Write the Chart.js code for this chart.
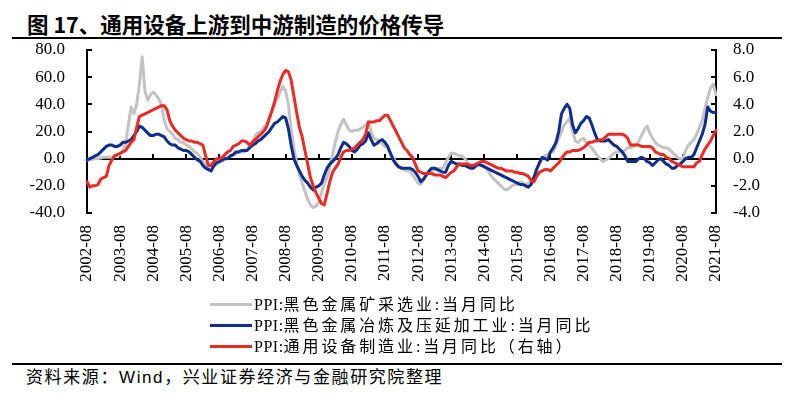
<!DOCTYPE html>
<html><head><meta charset="utf-8">
<script src="https://cdn.jsdelivr.net/npm/chart.js@4.4.1/dist/chart.umd.min.js"></script>
<style>
html,body{margin:0;padding:0;background:#fff;}
body{width:789px;height:399px;position:relative;overflow:hidden;}
#title{position:absolute;left:27px;top:10px;font-family:"Noto Sans CJK SC",sans-serif;font-weight:700;font-size:21.5px;line-height:27px;color:#000;white-space:nowrap;}
.rule{position:absolute;left:12px;width:770px;height:2px;background:#000;}
#cv{position:absolute;left:0;top:0;}
#legend{position:absolute;left:210px;top:294px;}
.item{height:21px;display:flex;align-items:center;white-space:nowrap;}
.swatch{width:42px;height:3px;margin-right:2px;}
.lt{font-family:"Liberation Serif","Noto Sans CJK SC",serif;font-size:16px;color:#000;line-height:21px;}
.lt .p{letter-spacing:0.5px;}
.lt .c{letter-spacing:2.9px;}
#source{position:absolute;left:26px;top:366px;font-family:"Liberation Sans","Noto Sans CJK SC",sans-serif;font-size:17px;letter-spacing:1.6px;line-height:24px;color:#000;white-space:nowrap;}
</style></head>
<body>
<div id="title">图 17、通用设备上游到中游制造的价格传导</div>
<div class="rule" style="top:37px"></div>
<canvas id="cv" width="789" height="300"></canvas>
<div id="legend"></div>
<div class="rule" style="top:363px"></div>
<div id="source">资料来源：Wind，兴业证券经济与金融研究院整理</div>
<script>
// ---- data ----
const startYear = 2002, startMonth = 8, endYear = 2021, endMonth = 8;
const seriesNames = ["PPI:黑色金属矿采选业:当月同比", "PPI:黑色金属冶炼及压延加工业:当月同比", "PPI:通用设备制造业:当月同比（右轴）"];
const seriesColors = ["#C3C3C3", "#0E2D8C", "#EC2A24"];
const leftTicks = [-40, -20, 0, 20, 40, 60, 80];
const rightTicks = [-4, -2, 0, 2, 4, 6, 8];

const miningPPI = [
-1,-1,-0.5,0,0,0.5,1,1,1,1,2,2,
3,6,11,25,38,33,40,55,75,50,43,47,
49,47,44,40,28,22,20,18,15,14,12,12,
10,9,7,5,4,1,-2,-5,-7,-8,-6,-4,
-3,-2,0,1,2,3,4,5,5,5,6,10,
13,17,19,20,23,25,30,35,40,44,49,53,
50,40,22,8,-3,-12,-18,-24,-30,-34,-36,-35,
-32,-25,-18,-14,-6,3,12,20,25,29,25,21,
20,21,21,22,23,25,27,20,15,14,12,11,
9,8,4,1,-3,-6,-7,-8,-9,-9,-12,-15,
-18,-19,-16,-12,-10,-9,-8,-7,-7,-7,-3,1,
4,4,3,2,2,0,-3,-6,-7,-6,-5,-5,
-5,-8,-11,-14,-16,-18,-20,-22,-23,-22,-20,-19,
-19,-17,-18,-19,-18,-17,-13,-7,-4,0,2,3,
5,5,10,15,20,25,27,30,20,13,12,14,
15,12,10,8,5,2,0,-2,-1,0,2,4,
5,5,5,6,8,8,9,10,13,17,21,24,
19,15,12,10,9,8,8,7,5,3,1,0,
0,6,10,12,14,18,23,28,37,45,52,55,47];

const smeltingPPI = [
-1,0,1,2,3,5,7,9,10,10,9,9,
10,12,12,13,14,17,20,24,23,21,19,17,
17,18,18,17,16,13,11,10,10,8,7,6,
6,5,3,1,-1,-2,-5,-7,-8,-9,-5,-3,
-2,-1,0,0,2,3,5,5,6,6,6,8,
10,11,13,14,16,18,20,23,26,27,29,31,
30,22,10,0,-5,-9,-13,-16,-18,-21,-23,-21,
-20,-18,-12,-7,-4,-2,0,3,8,12,11,9,
6,5,7,10,11,13,19,14,10,11,13,14,
12,9,4,-1,-4,-6,-7,-7,-7,-7,-8,-10,
-13,-17,-15,-12,-9,-7,-7,-8,-9,-10,-10,-5,
-2,-3,-4,-4,-5,-5,-6,-7,-7,-5,-4,-5,
-6,-7,-8,-9,-10,-11,-12,-13,-14,-15,-16,-17,
-18,-19,-19,-20,-21,-19,-14,-8,-3,1,0,-1,
5,8,12,20,33,37,40,37,25,19,22,26,
28,31,30,25,19,14,13,13,13,14,12,10,
9,7,5,2,-2,-2,-2,-2,0,1,0,-2,
-3,-5,-3,-1,0,-2,-4,-5,-7,-7,-5,-4,
-2,0,1,1,3,8,13,18,25,38,35,34,34];

const equipmentPPI = [
-1.7,-2.1,-2.0,-2.0,-1.9,-1.5,-1.4,-1.3,-0.5,-0.1,0.2,0.3,
0.4,0.5,0.6,0.9,1.2,1.4,2.3,3.1,3.2,3.3,3.4,3.5,
3.6,3.7,3.8,3.9,3.9,3.6,2.8,2.4,2.1,1.9,1.7,1.5,
1.4,1.3,1.3,1.2,1.2,1.1,1.0,0.2,-0.5,-0.5,-0.2,0.0,
0.0,0.1,0.3,0.5,0.6,0.9,1.0,1.1,1.3,1.3,1.2,1.0,
1.2,1.4,1.6,1.8,2.0,2.3,2.9,3.5,4.2,5.0,5.7,6.2,
6.5,6.4,5.8,4.6,3.4,2.3,1.6,0.6,-0.4,-1.4,-2.0,-2.5,
-2.9,-3.3,-3.4,-2.6,-1.7,-1.0,-0.7,-0.4,0.1,0.5,0.6,0.6,
0.7,0.8,1.0,1.2,1.4,1.8,2.7,2.7,2.7,2.8,2.8,3.0,
3.2,3.2,2.8,2.4,2.0,1.6,1.2,0.8,0.6,0.3,0.1,-0.4,
-0.9,-1.0,-1.1,-1.1,-1.1,-1.1,-1.2,-1.2,-1.2,-1.3,-1.4,-1.2,
-1.0,-0.9,-0.6,-0.4,-0.4,-0.4,-0.4,-0.5,-0.5,-0.4,-0.3,-0.2,
-0.2,-0.3,-0.4,-0.5,-0.6,-0.7,-0.7,-0.8,-0.9,-0.9,-0.9,-1.0,
-1.0,-1.1,-1.1,-1.2,-1.3,-1.6,-1.7,-1.3,-1.0,-0.9,-0.8,-0.8,
-0.9,-0.7,-0.5,-0.3,0.0,0.3,0.5,0.5,0.6,0.6,0.6,0.7,
0.8,1.0,1.2,1.2,1.3,1.3,1.4,1.4,1.6,1.8,1.8,1.8,
1.8,1.8,1.8,1.7,1.5,1.0,1.0,1.0,1.0,0.9,0.9,0.9,
0.9,0.8,0.5,0.4,0.3,0.3,0.1,0.0,-0.2,-0.3,-0.4,-0.5,
-0.6,-0.6,-0.6,-0.6,-0.6,-0.3,-0.2,0.3,0.7,1.0,1.3,1.7,2.1];

// month categories
const months = [];
for (let y = startYear, m = startMonth; y < endYear || (y === endYear && m <= endMonth); ) {
  months.push(y + "-" + String(m).padStart(2, "0"));
  m++; if (m > 12) { m = 1; y++; }
}

const axisDeco = {
  id: 'axisDeco',
  beforeDatasetsDraw(chart) {
    const {ctx, chartArea: a, scales} = chart;
    const x = scales.x, y = scales.y, y1 = scales.y1;
    ctx.save();
    ctx.strokeStyle = '#000';
    ctx.lineWidth = 2;
    ctx.beginPath();
    const y0 = Math.round(y.getPixelForValue(0));
    ctx.moveTo(a.left, y0); ctx.lineTo(a.right, y0);
    chart.data.labels.forEach((l, i) => {
      if (i % 12 === 0) {
        const px = Math.round(x.getPixelForValue(i));
        ctx.moveTo(px, y0); ctx.lineTo(px, y0 - 5);
      }
    });
    y.ticks.forEach(t => {
      const py = Math.round(y.getPixelForValue(t.value));
      ctx.moveTo(a.left, py); ctx.lineTo(a.left + 5, py);
    });
    y1.ticks.forEach(t => {
      const py = Math.round(y1.getPixelForValue(t.value));
      ctx.moveTo(a.right, py); ctx.lineTo(a.right - 5, py);
    });
    ctx.stroke();
    ctx.restore();
  }
};

const mk = (label, data, color, axis, order) => ({
  label, data, borderColor: color, backgroundColor: color, yAxisID: axis, order,
  borderWidth: 3, pointRadius: 0, pointHoverRadius: 0, tension: 0,
  borderJoinStyle: 'round', borderCapStyle: 'round', fill: false
});

const chart = new Chart(document.getElementById('cv'), {
  type: 'line',
  data: {
    labels: months,
    datasets: [
      mk(seriesNames[0], miningPPI, seriesColors[0], 'y', 3),
      mk(seriesNames[1], smeltingPPI, seriesColors[1], 'y', 2),
      mk(seriesNames[2], equipmentPPI, seriesColors[2], 'y1', 1)
    ]
  },
  options: {
    responsive: false,
    devicePixelRatio: 1,
    animation: false,
    layout: { padding: { top: 50, left: 0, right: 0, bottom: 0 } },
    plugins: { legend: { display: false }, tooltip: { enabled: false }, title: { display: false } },
    scales: {
      x: {
        type: 'category',
        offset: false,
        grid: { display: false, drawTicks: false },
        border: { display: false },
        ticks: {
          autoSkip: false, maxRotation: 90, minRotation: 90, padding: 12,
          color: '#000', font: { family: 'Liberation Serif', size: 17 },
          callback: function(v, i) { return i % 12 === 0 ? this.getLabelForValue(v) : null; }
        },
        afterFit: s => { s.height = 87; }
      },
      y: {
        position: 'left', min: -40, max: 80,
        afterBuildTicks: s => { s.ticks = leftTicks.map(v => ({value: v})); },
        grid: { drawOnChartArea: false, drawTicks: false },
        border: { display: true, color: '#000', width: 2 },
        ticks: { padding: 22, color: '#000', font: { family: 'Liberation Serif', size: 17 }, callback: v => v.toFixed(1) },
        afterFit: s => { s.width = 87; }
      },
      y1: {
        position: 'right', min: -4, max: 8,
        afterBuildTicks: s => { s.ticks = rightTicks.map(v => ({value: v})); },
        grid: { drawOnChartArea: false, drawTicks: false },
        border: { display: true, color: '#000', width: 2 },
        ticks: { padding: 17, color: '#000', font: { family: 'Liberation Serif', size: 17 }, callback: v => v.toFixed(1) },
        afterFit: s => { s.width = 73; }
      }
    }
  },
  plugins: [axisDeco]
});

// legend built from datasets
const lg = document.getElementById('legend');
chart.data.datasets.forEach(ds => {
  const row = document.createElement('div'); row.className = 'item';
  const sw = document.createElement('span'); sw.className = 'swatch'; sw.style.background = ds.borderColor;
  const tx = document.createElement('span'); tx.className = 'lt';
  const p = document.createElement('span'); p.className = 'p'; p.textContent = ds.label.slice(0, 4);
  const c = document.createElement('span'); c.className = 'c'; c.textContent = ds.label.slice(4);
  tx.appendChild(p); tx.appendChild(c);
  row.appendChild(sw); row.appendChild(tx); lg.appendChild(row);
});
</script>
</body></html>
